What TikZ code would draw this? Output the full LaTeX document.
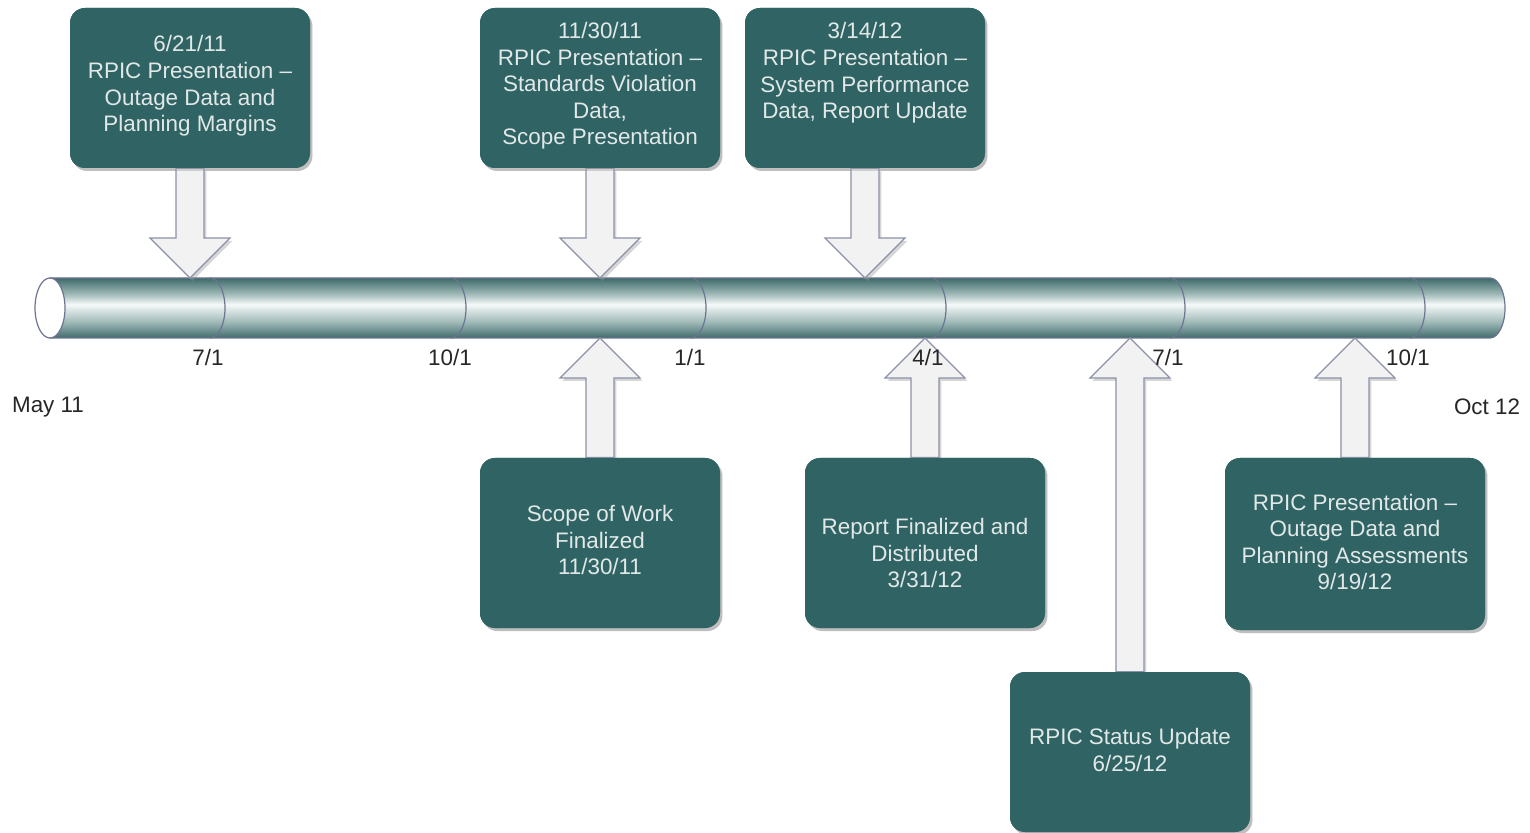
\documentclass[tikz,border=0pt]{standalone}
\usepackage{fontspec}
\setmainfont{Liberation Sans}
\usetikzlibrary{calc,shadows}
\definecolor{boxfill}{HTML}{306464}
\definecolor{boxtext}{HTML}{E2E8E8}
\definecolor{arrowfill}{HTML}{F2F2F2}
\definecolor{arrowline}{HTML}{8C92A8}
\definecolor{cyltop}{HTML}{3D6A69}
\definecolor{cylbot}{HTML}{3F6B6B}
\definecolor{cylmid}{HTML}{9DB8B6}
\definecolor{cyllight}{HTML}{F6F9F9}
\definecolor{cylline}{HTML}{6C7490}
\pgfdeclareverticalshading{cylshade}{100bp}{color(0bp)=(cylbot); color(25bp)=(cylbot); color(38bp)=(cylmid); color(53bp)=(cyllight); color(62bp)=(cylmid); color(75bp)=(cyltop); color(100bp)=(cyltop)}
\tikzset{
  softshadow/.style={drop shadow={shadow xshift=1.2pt, shadow yshift=-1.5pt, fill=black!40, opacity=0.4}},
  box/.style={rectangle, rounded corners=7.5pt, fill=boxfill, minimum width=120pt, minimum height=80pt, inner sep=0pt, softshadow},
  boxtxt/.style={text=boxtext, align=center, font=\fontsize{11.2}{13.3}\selectfont, inner sep=0pt},
  blockarrow/.style={fill=arrowfill, draw=arrowline, line width=0.6pt, line join=miter, softshadow},
  datelabel/.style={text=black!85, font=\fontsize{11.2}{12}\selectfont, inner sep=0pt},
  cylbody/.style={draw=cylline, line width=0.6pt, shading=cylshade},
  cylline/.style={draw=cylline, line width=0.6pt}
}
\newcommand\blockarr[2]{%
  \draw[blockarrow] ($(#1)+(-7pt,0)$) -- ($(#2)!20pt!(#1)+(-7pt,0)$) -- ($(#2)!20pt!(#1)+(-20pt,0)$) -- (#2)
    -- ($(#2)!20pt!(#1)+(20pt,0)$) -- ($(#2)!20pt!(#1)+(7pt,0)$) -- ($(#1)+(7pt,0)$) -- cycle;}
\begin{document}
\begin{tikzpicture}[x=0.5pt,y=-0.5pt]
\useasboundingbox (0,0) rectangle (1530,833);
% cylinder
\coordinate (ctop) at (0,278);
\coordinate (cbot) at (0,338);
\path[cylbody] (50,278) -- (1490,278) arc[start angle=90, end angle=-90, x radius=7.5pt, y radius=15pt] -- (50,338) -- cycle;
\foreach \xx in {210,451,691,931,1170,1410}
  \draw[cylline] (\xx,278) arc[start angle=90, end angle=-90, x radius=7.5pt, y radius=15pt];
\draw[cylline, fill=white] (50,308) ellipse[x radius=7.5pt, y radius=15pt];
% boxes
\node[box] (b1) at (190,88) {};
\node[box] (b2) at (600,88) {};
\node[box] (b3) at (865,88) {};
\node[box, minimum height=85pt] (b4) at (600,543) {};
\node[box, minimum height=85pt] (b5) at (925,543) {};
\node[box] (b6) at (1130,752) {};
\node[box, minimum width=130pt, minimum height=86pt] (b7) at (1355,544) {};
% arrow tips
\coordinate (p1) at (b1.south |- ctop);
\coordinate (p2) at (b2.south |- ctop);
\coordinate (p3) at (b3.south |- ctop);
\coordinate (p4) at (b4.north |- cbot);
\coordinate (p5) at (b5.north |- cbot);
\coordinate (p6) at (b6.north |- cbot);
\coordinate (p7) at (b7.north |- cbot);
\blockarr{b1.south}{p1}
\blockarr{b2.south}{p2}
\blockarr{b3.south}{p3}
\blockarr{b4.north}{p4}
\blockarr{b5.north}{p5}
\blockarr{b6.north}{p6}
\blockarr{b7.north}{p7}
% redraw boxes over arrow ends
\node[box] at (b1) {};
\node[box] at (b2) {};
\node[box] at (b3) {};
\node[box, minimum height=85pt] at (b4) {};
\node[box, minimum height=85pt] at (b5) {};
\node[box] at (b6) {};
\node[box, minimum width=130pt, minimum height=86pt] at (b7) {};
% box texts
\node[boxtxt] (t1) at ($(b1)+(0,-2)$) {6/21/11\\RPIC Presentation --\\Outage Data and\\Planning Margins};
\node[boxtxt] (t2) at ($(b2)+(0,-2)$) {11/30/11\\RPIC Presentation --\\Standards Violation\\Data,\\Scope Presentation};
\node[boxtxt] (t3) at ($(b3)+(0,-15)$) {3/14/12\\RPIC Presentation --\\System Performance\\Data, Report Update};
\node[boxtxt] (t4) at ($(b4)+(0,-3)$) {Scope of Work\\Finalized\\11/30/11};
\node[boxtxt] (t5) at ($(b5)+(0,10)$) {Report Finalized and\\Distributed\\3/31/12};
\node[boxtxt] (t6) at ($(b6)+(0,-2)$) {RPIC Status Update\\6/25/12};
\node[boxtxt] (t7) at ($(b7)+(0,-2)$) {RPIC Presentation --\\Outage Data and\\Planning Assessments\\9/19/12};
% date labels
\node[datelabel] (d1) at (208,357) {7/1};
\node[datelabel] (d2) at (450,357) {10/1};
\node[datelabel] (d3) at (690,357) {1/1};
\node[datelabel] (d4) at (928,357) {4/1};
\node[datelabel] (d5) at (1168,357) {7/1};
\node[datelabel] (d6) at (1408,357) {10/1};
\node[datelabel] (may) at (48,407) {May 11};
\node[datelabel] (oct) at (1487,407) {Oct 12};
\end{tikzpicture}
\end{document}
